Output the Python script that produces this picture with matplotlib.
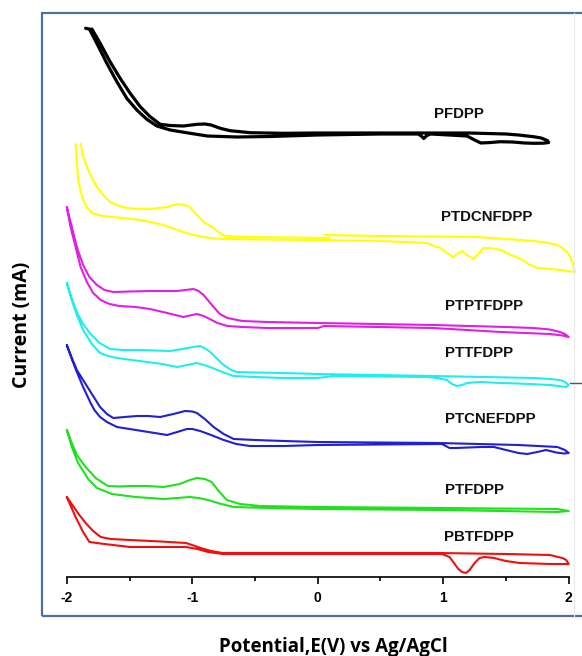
"""
Stacked cyclic voltammograms of the FDPP polymer series.
Currents are in arbitrary units (curves offset vertically).
"""

import numpy as np
import matplotlib
matplotlib.use('Agg')
import matplotlib.pyplot as plt
from matplotlib.patches import Rectangle
from matplotlib.lines import Line2D

# ---- data (potential in V, current in offset arbitrary units) ----
PFDPP_E = [-1.85, -1.82, -1.761, -1.681, -1.601, -1.522, -1.442, -1.362, -1.282, -1.176,
           -1.017, -0.88, -0.645, -0.38, 0.0, 0.5, 0.80, 0.825, 0.845, 0.87, 0.90, 1.19,
           1.25, 1.30, 1.38, 1.455, 1.55, 1.65, 1.72, 1.80, 1.84, 1.83, 1.78, 1.72, 1.60,
           1.50, 1.20, 0.5, 0.0, -0.27, -0.538, -0.698, -0.777, -0.85, -0.90, -0.963,
           -1.07, -1.176, -1.256, -1.336, -1.415, -1.495, -1.575, -1.655, -1.734, -1.80]
PFDPP_I = [548.7, 548, 533.7, 513.7, 495.3, 478.7, 467, 457.7, 451, 447,
           443.7, 441, 440, 440.5, 442, 443, 443, 441, 438.5, 441.5, 443, 441,
           437, 434, 434.5, 435.3, 435, 434, 433.7, 433.8, 434.5, 436.5, 439, 440.3, 442,
           443, 444, 444, 444, 443.7, 444.3, 446.3, 448.7, 452, 453, 452.7,
           451, 451.5, 452.7, 460.3, 470.3, 483.7, 498.7, 515.3, 533.7, 548]

# PTDCNFDPP is drawn as two open pieces (top of the scan is cut off)
PTDCN_E_A = [-1.93, -1.92, -1.91, -1.89, -1.87, -1.84, -1.80, -1.71, -1.60, -1.47, -1.35,
             -1.23, -1.15, -1.07, -0.99, -0.91, -0.83, -0.75, -0.40, 0.0, 0.5, 0.80, 0.87,
             0.93, 0.98, 1.03, 1.08, 1.12, 1.15, 1.19, 1.24, 1.28, 1.32, 1.38, 1.46, 1.54,
             1.62, 1.68, 1.75, 1.85, 1.93, 2.05, 2.04, 2.03, 2.01, 1.99, 1.95, 1.91, 1.82,
             1.72, 1.50, 1.27, 0.5, 0.05]
PTDCN_I_A = [433, 415, 397, 386, 377, 370, 364, 361, 359.5, 358, 355.5,
             352, 348.5, 345, 342, 340, 338.5, 338, 337.5, 337, 336, 334.5, 334,
             331, 329, 324, 320, 324, 326, 322, 318, 323, 329, 329, 327, 322,
             318, 313, 309, 308, 307, 305, 310, 315, 320, 325, 329, 332, 334.5,
             336, 338, 340, 341, 342]
PTDCN_E_B = [-1.89, -1.87, -1.84, -1.80, -1.76, -1.71, -1.655, -1.59, -1.52, -1.42, -1.34,
             -1.27, -1.20, -1.15, -1.11, -1.06, -1.02, -0.97, -0.91, -0.87, -0.83, -0.78,
             -0.74, -0.65, -0.54, 0.10]
PTDCN_I_B = [433, 421, 410, 399, 390, 382, 375, 371.5, 369, 368, 368,
             369, 370, 372, 373, 372, 370, 363, 355, 352, 349, 344,
             341, 340.3, 340, 339]

PTPT_E = [-2.0, -1.96, -1.92, -1.87, -1.82, -1.76, -1.70, -1.63, -1.50, -1.336, -1.12,
          -0.99, -0.95, -0.91, -0.87, -0.83, -0.78, -0.72, -0.60, -0.40, 0.0, 0.92, 1.50,
          1.72, 1.85, 1.93, 1.97, 2.0, 1.95, 1.85, 1.46, 0.92, 0.05, 0.0, -0.40, -0.60,
          -0.72, -0.80, -0.86, -0.91, -0.963, -1.02, -1.07, -1.20, -1.336, -1.45, -1.58,
          -1.66, -1.73, -1.79, -1.84, -1.89, -1.93, -1.97, -2.0]
PTPT_I = [370, 350, 330, 312, 300, 292, 287, 285, 285.5, 286, 286,
          288, 286, 282, 276, 270, 263, 259, 256, 255, 254, 252, 250,
          249, 247.5, 245, 243, 240, 241.5, 243, 245, 249, 251, 249, 249, 250,
          251, 254, 258, 261, 263, 261.5, 260, 264, 268, 270, 271,
          273, 277, 284, 295, 310, 330, 350, 370]

PTT_E = [-2.0, -1.96, -1.92, -1.87, -1.81, -1.74, -1.655, -1.55, -1.415, -1.176, -1.08,
         -1.017, -0.937, -0.89, -0.857, -0.80, -0.75, -0.69, -0.644, -0.50, -0.27, 0.0,
         0.92, 1.72, 1.85, 1.93, 1.97, 2.0, 1.98, 1.85, 1.60, 1.455, 1.30, 1.24, 1.19,
         1.15, 1.11, 1.07, 1.03, 0.95, 0.87, 0.13, 0.0, -0.27, -0.50, -0.67, -0.74, -0.80,
         -0.88, -0.963, -1.04, -1.12, -1.24, -1.36, -1.48, -1.60, -1.67, -1.735, -1.80,
         -1.87, -1.92, -1.96, -2.0]
PTT_I = [294, 278, 265, 253, 243, 234, 228, 227, 227, 226, 228,
         229.5, 231, 228, 225, 218, 212, 207, 205, 204.5, 204, 203,
         201, 199, 198, 197, 195, 192, 190, 192, 193.5, 194, 195, 194.5, 194,
         192, 191, 193, 197, 199, 200, 201, 199, 199, 200, 201, 204, 207,
         211, 214, 212, 210, 213, 215, 217, 219, 221, 224, 233,
         247, 262, 277, 294]

PTCNE_E = [-2.0, -1.96, -1.92, -1.87, -1.80, -1.735, -1.68, -1.63, -1.54, -1.44, -1.35,
           -1.256, -1.15, -1.057, -1.00, -0.963, -0.90, -0.83, -0.75, -0.67, -0.50, -0.27,
           0.0, 0.96, 1.60, 1.91, 1.97, 2.0, 1.96, 1.90, 1.82, 1.75, 1.67, 1.60, 1.50,
           1.405, 1.30, 1.20, 1.10, 1.05, 0.99, 0.50, 0.0, -0.27, -0.54, -0.65, -0.75,
           -0.85, -0.937, -1.00, -1.043, -1.12, -1.20, -1.40, -1.60, -1.68, -1.735, -1.78,
           -1.81, -1.87, -1.92, -1.96, -2.0]
PTCNE_I = [232, 219, 207, 197, 183, 170, 163, 159, 160, 161, 161,
           160, 163, 166, 165.5, 164, 158, 150, 143, 138, 137, 136,
           135, 134, 132, 130, 127, 124, 123.5, 124.5, 127, 125, 123, 124, 127,
           130, 130, 129.5, 129, 129, 133, 132.5, 132, 131, 131, 133, 137,
           142, 146, 148, 148, 145, 142, 146, 150, 155, 160, 167,
           174, 190, 205, 218, 232]

PTF_E = [-2.0, -1.96, -1.92, -1.85, -1.77, -1.674, -1.58, -1.496, -1.36, -1.23, -1.10,
         -1.02, -0.963, -0.90, -0.845, -0.79, -0.726, -0.62, -0.46, 0.0, 1.0, 1.91, 2.0,
         1.91, 1.0, 0.0, -0.40, -0.667, -0.77, -0.874, -0.95, -1.02, -1.12, -1.23, -1.45,
         -1.64, -1.70, -1.76, -1.83, -1.87, -1.91, -1.96, -2.0]
PTF_I = [147, 134, 122, 110, 99, 91, 90.5, 91, 91, 90, 93,
         97, 99, 98, 95, 86, 77, 73, 71, 70, 69, 68, 66,
         65, 67, 68, 69, 70, 73, 77, 79, 80, 79, 78, 80,
         83, 86, 89, 98, 106, 114, 130, 147]

PBT_E = [-2.0, -1.95, -1.90, -1.85, -1.79, -1.73, -1.65, -1.496, -1.25, -1.05, -0.99,
         -0.934, -0.85, -0.756, -0.50, 0.0, 0.96, 1.50, 1.85, 1.95, 1.98, 2.0, 1.93, 1.85,
         1.61, 1.50, 1.405, 1.33, 1.29, 1.25, 1.21, 1.18, 1.15, 1.12, 1.08, 1.05, 0.99,
         0.0, -0.756, -0.874, -0.96, -1.05, -1.30, -1.496, -1.70, -1.82, -1.87, -1.93, -2.0]
PBT_I = [80, 71, 62, 54, 46, 40, 38, 37, 35.5, 34, 31.5,
         29, 26, 24, 24, 24, 24, 23, 22, 19, 17, 13, 13, 13,
         14, 16, 19, 20, 19, 14, 7, 4, 5, 8, 15, 20, 23,
         23, 23, 25, 28, 30, 30, 30, 33, 35, 45, 60, 80]

NAMES = ['PFDPP', 'PTDCNFDPP', 'PTPTFDPP', 'PTTFDPP', 'PTCNEFDPP', 'PTFDPP', 'PBTFDPP']
COLORS = ['#000000', '#ffff00', '#e020e0', '#20eeee', '#2020d0', '#20e020', '#ee1010']
# label anchor (left x in V, baseline in current units)
LABEL_POS = [(0.925, 459), (0.985, 356), (1.017, 267), (1.017, 220),
             (1.017, 154), (1.017, 83), (1.010, 36)]

XTICKS = [-2, -1, 0, 1, 2]

fig = plt.figure(figsize=(5.82, 6.56), dpi=100)

# outer frame around the plot
fig.add_artist(Rectangle((42 / 582, 1 - 616 / 656), 560 / 582, 603 / 656,
                         transform=fig.transFigure, fill=False,
                         edgecolor='#4f6f9f', linewidth=1.6))
# stray marks at right edge
fig.add_artist(Line2D([574 / 582, 574 / 582], [1 - 616 / 656, 1 - 13 / 656],
                      transform=fig.transFigure, color='#ececec', linewidth=0.8))
fig.add_artist(Line2D([570 / 582, 1.0], [1 - 383 / 656, 1 - 383 / 656],
                      transform=fig.transFigure, color='#555555', linewidth=1.0))

ax = fig.add_axes([66.8 / 582, 79 / 656, 501.9 / 582, 564 / 656])
ax.set_xlim(-2, 2)
ax.set_ylim(0, 564)
ax.patch.set_alpha(0)

curves = [
    [(PFDPP_E, PFDPP_I)],
    [(PTDCN_E_A, PTDCN_I_A), (PTDCN_E_B, PTDCN_I_B)],
    [(PTPT_E, PTPT_I)],
    [(PTT_E, PTT_I)],
    [(PTCNE_E, PTCNE_I)],
    [(PTF_E, PTF_I)],
    [(PBT_E, PBT_I)],
]

for pieces, name, color, (lx, ly) in zip(curves, NAMES, COLORS, LABEL_POS):
    lw = 2.3 if color == '#000000' else 1.5
    for e, i in pieces:
        ax.plot(e, i, color=color, lw=lw, clip_on=False,
                solid_joinstyle='round', solid_capstyle='round')
    ax.text(lx, ly, name, ha='left', va='baseline', fontsize=10.8,
            fontweight='bold', family='Liberation Sans', color='#111111')

for side in ['left', 'right', 'top']:
    ax.spines[side].set_visible(False)
ax.spines['bottom'].set_linewidth(1.2)
ax.set_yticks([])
ax.set_xticks(XTICKS)
ax.set_xticklabels([str(t) for t in XTICKS], fontsize=10, fontweight='bold',
                   family='Liberation Sans')
ax.set_xticks(np.arange(-1.5, 2, 1.0), minor=True)
ax.tick_params(axis='x', which='major', length=5, width=1.2, pad=5)
ax.tick_params(axis='x', which='minor', length=3, width=1.2)

fig.text(333 / 582, 1 - 647 / 656, 'Potential,E(V) vs Ag/AgCl', ha='center', va='center',
         fontsize=13.5, fontweight='bold', family='Open Sans')
fig.text(22 / 582, 1 - 325 / 656, 'Current (mA)', ha='center', va='center',
         rotation=90, fontsize=14, fontweight='bold', family='Open Sans')

fig.savefig('out.png', dpi=100)
